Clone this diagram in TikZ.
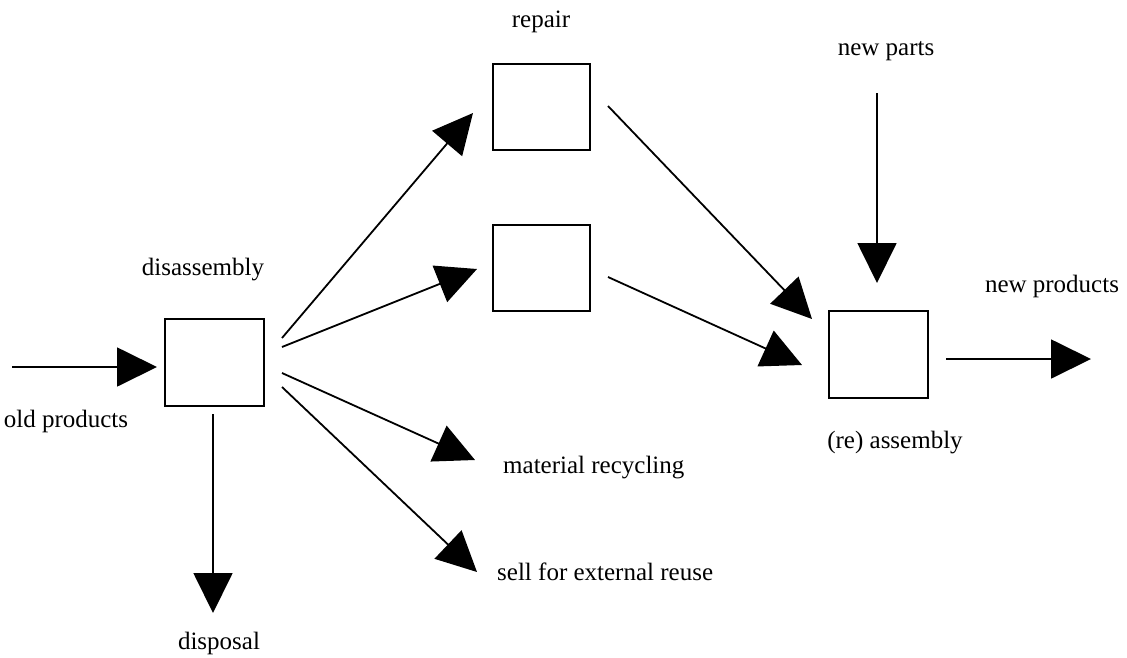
\documentclass[tikz,border=0pt]{standalone}
\usepackage{fontspec}
\setmainfont{Liberation Serif}
\usetikzlibrary{arrows.meta}
\tikzset{
  box/.style={draw, line width=2pt, minimum width=99pt, minimum height=87pt, inner sep=0pt},
  flow/.style={line width=1.8pt, -{Triangle[length=40pt,width=39pt]}},
  lbl/.style={font=\fontsize{25}{30}\selectfont, anchor=base, inner sep=0pt},
}
\begin{document}
\begin{tikzpicture}[x=1pt,y=-1pt]
\useasboundingbox (0,0) rectangle (1127,657);
% boxes
\node[box] (dis) at (214.5,362.5) {};
\node[box, minimum width=97pt, minimum height=86pt] (rep) at (541.5,107) {};
\node[box, minimum width=97pt, minimum height=86pt] (mid) at (541.5,268) {};
\node[box] (asm) at (878.5,354.5) {};
% labels
\node[lbl] (lrep) at (541,27) {repair};
\node[lbl] (lnp) at (886,55) {new parts};
\node[lbl] (ldis) at (203,275) {disassembly};
\node[lbl] (lnprod) at (1052,292) {new products};
\node[lbl] (lold) at (66,427) {old products};
\node[lbl] (lasm) at (895,448) {(re) assembly};
\node[lbl, anchor=base west] (lmat) at (503,473) {material recycling};
\node[lbl, anchor=base west] (lsell) at (497,580) {sell for external reuse};
\node[lbl] (ldisp) at (219,649) {disposal};
% connector end points
\coordinate (oldS) at (12,367);
\coordinate (oldE) at (157,367);
\coordinate (d1S) at (282,338);
\coordinate (d1E) at (473,113);
\coordinate (d2S) at (282,347);
\coordinate (d2E) at (477,269);
\coordinate (d3S) at (282,373);
\coordinate (d3E) at (475,460);
\coordinate (d4S) at (282,387);
\coordinate (d4E) at (477,572);
\coordinate (dpS) at (213,414);
\coordinate (dpE) at (213,613);
\coordinate (r1S) at (608,106);
\coordinate (r1E) at (812,319);
\coordinate (m1S) at (608,277);
\coordinate (m1E) at (802,365);
\coordinate (npS) at (877,93);
\coordinate (npE) at (877,283);
\coordinate (prS) at (946,359);
\coordinate (prE) at (1091,359);
% connectors
\draw[flow] (oldS) -- (oldE);
\draw[flow] (d1S) -- (d1E);
\draw[flow] (d2S) -- (d2E);
\draw[flow] (d3S) -- (d3E);
\draw[flow] (d4S) -- (d4E);
\draw[flow] (dpS) -- (dpE);
\draw[flow] (r1S) -- (r1E);
\draw[flow] (m1S) -- (m1E);
\draw[flow] (npS) -- (npE);
\draw[flow] (prS) -- (prE);
\end{tikzpicture}
\end{document}
